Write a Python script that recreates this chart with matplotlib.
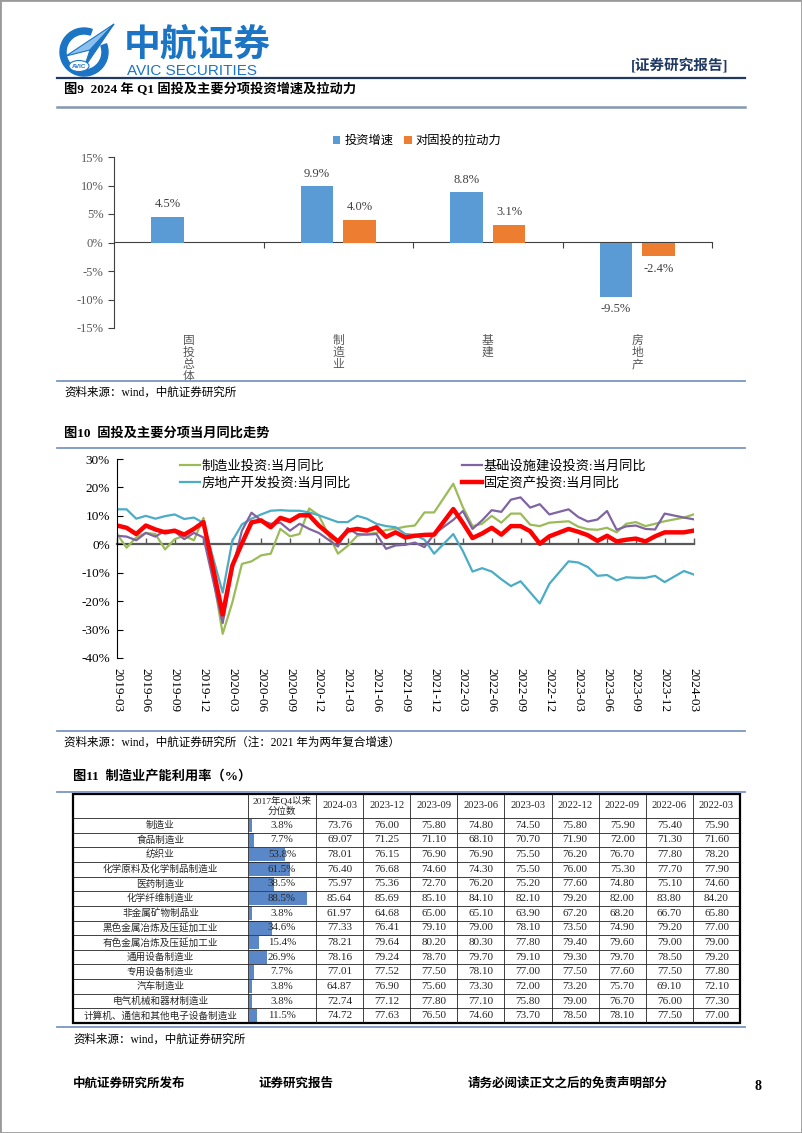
import numpy as np
import matplotlib
matplotlib.use("Agg")
import matplotlib.pyplot as plt
from matplotlib import patches
from matplotlib.lines import Line2D

plt.rcParams["font.family"] = ["Liberation Serif", "Noto Sans CJK SC"]
plt.rcParams["axes.unicode_minus"] = False

# ---------------- Fig 9: Q1 2024 growth and pull ----------------
fig9_categories = ["固投总体", "制造业", "基建", "房地产"]
fig9_growth = [4.5, 9.9, 8.8, -9.5]
fig9_pull = [np.nan, 4.0, 3.1, -2.4]

# ---------------- Fig 10: monthly YoY (Jan merged into Feb) ----------------
fig10_months = [
    "2019-03", "2019-04", "2019-05", "2019-06", "2019-07", "2019-08", "2019-09", "2019-10", "2019-11", "2019-12",
    "2020-02", "2020-03", "2020-04", "2020-05", "2020-06", "2020-07", "2020-08", "2020-09", "2020-10", "2020-11", "2020-12",
    "2021-02", "2021-03", "2021-04", "2021-05", "2021-06", "2021-07", "2021-08", "2021-09", "2021-10", "2021-11", "2021-12",
    "2022-02", "2022-03", "2022-04", "2022-05", "2022-06", "2022-07", "2022-08", "2022-09", "2022-10", "2022-11", "2022-12",
    "2023-02", "2023-03", "2023-04", "2023-05", "2023-06", "2023-07", "2023-08", "2023-09", "2023-10", "2023-11", "2023-12",
    "2024-02", "2024-03",
]
mfg_yoy = [
    3.6, -1.2, 2.4, 4.0, 3.6, -1.8, 1.8, 3.0, 1.4, 9.3,
    -31.5, -20.5, -6.9, -6.0, -3.9, -3.3, 5.4, 2.8, 3.6, 12.6, 10.2,
    -3.3, -0.6, 3.0, 3.6, 4.0, 5.0, 5.5, 6.2, 6.6, 11.2, 11.2,
    21.3, 13.0, 6.4, 7.2, 10.0, 7.6, 10.8, 10.8, 6.9, 6.4, 7.6,
    8.1, 6.2, 5.3, 5.1, 5.8, 4.2, 7.2, 7.8, 6.4, 7.2, 8.1,
    9.4, 10.5,
]
realestate_yoy = [
    12.3, 12.3, 9.0, 10.0, 9.0, 9.9, 10.5, 8.9, 9.4, 7.5,
    -17.0, 1.2, 7.0, 9.0, 10.5, 11.8, 12.0, 11.8, 11.8, 11.2, 10.2,
    7.8, 7.8, 10.0, 9.0, 7.2, 6.4, 6.0, 3.6, 3.3, 1.6, -3.3,
    3.6, -2.4, -9.6, -8.4, -9.6, -12.3, -14.7, -13.0, -16.9, -20.8, -13.9,
    -6.0, -6.4, -8.0, -11.1, -10.8, -12.7, -11.6, -11.8, -11.8, -11.1, -13.3,
    -9.4, -10.6,
]
infra_yoy = [
    3.0, 2.7, 1.4, 4.0, 2.7, 4.8, 4.5, 1.8, 4.0, 2.4,
    -27.7, -9.0, 4.8, 11.1, 8.4, 7.2, 7.6, 4.8, 7.2, 5.4, 4.0,
    -0.8, 5.7, 3.6, 3.4, 3.6, -1.6, -0.4, -0.2, 0.6, -1.0, 3.6,
    8.6, 11.7, 5.4, 8.4, 12.0, 11.4, 15.7, 16.5, 12.9, 14.1, 10.5,
    12.3, 9.6, 8.0, 8.7, 11.7, 5.1, 6.3, 6.6, 5.4, 5.2, 10.8,
    9.4, 8.8,
]
fai_yoy = [
    6.6, 5.8, 3.6, 6.6, 5.2, 4.2, 4.8, 3.4, 5.4, 7.8,
    -24.7, -7.5, 0.3, 7.7, 8.4, 6.0, 9.3, 8.2, 10.2, 10.2, 6.6,
    1.0, 4.8, 5.4, 4.8, 6.0, 2.6, 4.2, 2.4, 3.0, 3.3, 3.4,
    12.4, 7.5, 2.2, 3.8, 5.8, 3.4, 6.4, 6.4, 4.6, 0.2, 2.8,
    5.4, 4.4, 3.2, 1.2, 3.0, 1.0, 1.6, 2.0, 1.0, 2.8, 4.2,
    4.2, 4.8,
]

# ---------------- Fig 11: capacity utilisation table ----------------
table_industries = [
    "制造业", "食品制造业", "纺织业", "化学原料及化学制品制造业", "医药制造业",
    "化学纤维制造业", "非金属矿物制品业", "黑色金属冶炼及压延加工业",
    "有色金属冶炼及压延加工业", "通用设备制造业", "专用设备制造业", "汽车制造业",
    "电气机械和器材制造业", "计算机、通信和其他电子设备制造业",
]
table_percentile = [3.8, 7.7, 53.8, 61.5, 38.5, 88.5, 3.8, 34.6, 15.4, 26.9, 7.7, 3.8, 3.8, 11.5]
table_quarters = ["2024-03", "2023-12", "2023-09", "2023-06", "2023-03",
                  "2022-12", "2022-09", "2022-06", "2022-03"]
cu_2024_03 = [73.76, 69.07, 78.01, 76.40, 75.97, 85.64, 61.97, 77.33, 78.21, 78.16, 77.01, 64.87, 72.74, 74.72]
cu_2023_12 = [76.00, 71.25, 76.15, 76.68, 75.36, 85.69, 64.68, 76.41, 79.64, 79.24, 77.52, 76.90, 77.12, 77.63]
cu_2023_09 = [75.80, 71.10, 76.90, 74.60, 72.70, 85.10, 65.00, 79.10, 80.20, 78.70, 77.50, 75.60, 77.80, 76.50]
cu_2023_06 = [74.80, 68.10, 76.90, 74.30, 76.20, 84.10, 65.10, 79.00, 80.30, 79.70, 78.10, 73.30, 77.10, 74.60]
cu_2023_03 = [74.50, 70.70, 75.50, 75.50, 75.20, 82.10, 63.90, 78.10, 77.80, 79.10, 77.00, 72.00, 75.80, 73.70]
cu_2022_12 = [75.80, 71.90, 76.20, 76.00, 77.60, 79.20, 67.20, 73.50, 79.40, 79.30, 77.50, 73.20, 79.00, 78.50]
cu_2022_09 = [75.90, 72.00, 76.70, 75.30, 74.80, 82.00, 68.20, 74.90, 79.60, 79.70, 77.60, 75.70, 76.70, 78.10]
cu_2022_06 = [75.40, 71.30, 77.80, 77.70, 75.10, 83.80, 66.70, 79.20, 79.00, 78.50, 77.50, 69.10, 76.00, 77.50]
cu_2022_03 = [75.90, 71.60, 78.20, 77.90, 74.60, 84.20, 65.80, 77.00, 79.00, 79.20, 77.80, 72.10, 77.30, 77.00]
cu_columns = [cu_2024_03, cu_2023_12, cu_2023_09, cu_2023_06, cu_2023_03,
              cu_2022_12, cu_2022_09, cu_2022_06, cu_2022_03]

# ---------------- page helpers (pixel layout) ----------------
W, H = 802, 1133
fig = plt.figure(figsize=(W / 100, H / 100), dpi=100)


def fx(x):
    return x / W


def fy(y):
    return 1 - y / H


def add_axes_px(left, top, right, bottom):
    return fig.add_axes([left / W, 1 - bottom / H, (right - left) / W, (bottom - top) / H])


def hline(y, color="#7C96C4", lw=1.3, x0=57, x1=745):
    fig.add_artist(Line2D([fx(x0), fx(x1)], [fy(y), fy(y)], color=color, lw=lw))


BLUE_LOGO = "#1B75C4"
NAVY = "#1F3864"

fig.add_artist(patches.Rectangle((0, 0), 1, 1, transform=fig.transFigure,
                                 fill=False, ec="#9A9A9A", lw=2))

# ---- header ----
logo = add_axes_px(58, 22, 118, 80)
logo.set_xlim(58, 118)
logo.set_ylim(80, 22)
logo.axis("off")
logo.add_patch(patches.Wedge((84, 52), 24, -20, 290, width=6, color=BLUE_LOGO))
logo.add_patch(patches.Polygon([(114, 24), (66, 56), (90, 50)], closed=True, fc="#8CC0EC", ec=BLUE_LOGO, lw=0.8))
logo.add_patch(patches.Polygon([(114, 24), (90, 50), (84, 68)], closed=True, fc=BLUE_LOGO, ec=BLUE_LOGO, lw=0.8))
logo.add_patch(patches.Ellipse((79, 66), 20, 11, fc="white", ec=BLUE_LOGO, lw=0.8))
logo.text(79, 66.5, "AVIC", fontsize=4.5, color=BLUE_LOGO, ha="center", va="center",
          family=["Liberation Sans"], fontweight="bold")

fig.text(fx(124), fy(45), "中航证券", fontsize=26.5, color=BLUE_LOGO, ha="left", va="center",
         family=["Noto Sans CJK SC"], fontweight="heavy")
fig.text(fx(127), fy(71), "AVIC SECURITIES", fontsize=11, color=BLUE_LOGO, ha="left", va="center",
         family=["Liberation Sans"])
fig.text(fx(728), fy(66), "[证券研究报告]", fontsize=10.5, color=NAVY, ha="right", va="center",
         fontweight="bold")
hline(78, color=NAVY, lw=1.6)

# ================= Fig 9 =================
fig.text(fx(64), fy(90), "图9  2024 年 Q1 固投及主要分项投资增速及拉动力", fontsize=9.5,
         fontweight="bold", ha="left", va="center")
hline(107, color="#8497B0", lw=1.8)

GRAY = "#595959"
C_BLUE = "#5B9BD5"
C_ORANGE = "#ED7D31"

ax9 = add_axes_px(114, 157, 712, 328)
x9 = np.arange(len(fig9_categories))
bw = 0.217
b1 = ax9.bar(x9 - 0.142, fig9_growth, bw, color=C_BLUE, label="投资增速")
b2 = ax9.bar(x9 + 0.142, fig9_pull, bw, color=C_ORANGE, label="对固投的拉动力")
for bars, vals in ((b1, fig9_growth), (b2, fig9_pull)):
    for rect, v in zip(bars, vals):
        if np.isnan(v):
            continue
        off = 9 if v >= 0 else -9
        ax9.annotate(f"{v:.1f}%", (rect.get_x() + rect.get_width() / 2, v),
                     xytext=(0, off), textcoords="offset points", ha="center", va="center",
                     fontsize=9, color="#404040")
ax9.set_xlim(-0.5, 3.5)
ax9.set_ylim(-15, 15)
ax9.set_yticks(range(-15, 16, 5))
ax9.set_yticklabels([f"{v}%" for v in range(-15, 16, 5)])
ax9.tick_params(axis="y", direction="out", length=4, labelsize=9, labelcolor=GRAY, color="#404040")
ax9.set_xticks(x9)
ax9.set_xticklabels(["\n".join(c) for c in fig9_categories])
ax9.tick_params(axis="x", length=0, pad=5, labelsize=8.5, labelcolor=GRAY)
for lbl in ax9.get_xticklabels():
    lbl.set_linespacing(1.0)
for s in ("top", "right", "bottom"):
    ax9.spines[s].set_visible(False)
ax9.spines["left"].set_color("#404040")
sec9 = ax9.secondary_xaxis(0.5)
sec9.set_xticks([0.5, 1.5, 2.5, 3.5])
sec9.tick_params(direction="in", length=4, labeltop=False, labelbottom=False, color="#404040")
for s in sec9.spines.values():
    s.set_color("#404040")
fig.legend(handles=[b1, b2], loc="center", bbox_to_anchor=(fx(417), fy(141)), ncol=2,
           frameon=False, fontsize=8.8, handlelength=0.65, handleheight=0.65,
           handletextpad=0.3, columnspacing=0.9, borderpad=0)

hline(381)
fig.text(fx(64), fy(393), "资料来源：wind，中航证券研究所", fontsize=8.3, ha="left", va="center")

# ================= Fig 10 =================
fig.text(fx(64), fy(433), "图10  固投及主要分项当月同比走势", fontsize=9.5, fontweight="bold",
         ha="left", va="center")
hline(448)

month_idx = [(int(m[:4]) - 2019) * 12 + int(m[5:]) - 3 for m in fig10_months]
quarter_ticks = list(range(0, 61, 3))
quarter_labels = [f"{2019 + (2 + i) // 12}-{(2 + i) % 12 + 1:02d}" for i in quarter_ticks]

ax10 = add_axes_px(117, 459, 693.5, 658)
ax10.plot(month_idx, mfg_yoy, color="#9BBB59", lw=1.6, label="制造业投资:当月同比")
ax10.plot(month_idx, realestate_yoy, color="#4BACC6", lw=1.6, label="房地产开发投资:当月同比")
ax10.plot(month_idx, infra_yoy, color="#8064A2", lw=1.6, label="基础设施建设投资:当月同比")
ax10.plot(month_idx, fai_yoy, color="#FF0000", lw=3.2, label="固定资产投资:当月同比")
ax10.set_xlim(0, 60)
ax10.set_ylim(-40, 30)
ax10.set_yticks(range(-40, 31, 10))
ax10.set_yticklabels([f"{v}%" for v in range(-40, 31, 10)])
ax10.tick_params(axis="y", direction="in", length=4, labelsize=9.5, pad=5)
ax10.set_xticks(quarter_ticks)
ax10.set_xticklabels(quarter_labels, rotation=270, ha="center", va="top")
ax10.tick_params(axis="x", length=0, pad=7, labelsize=9.5)
for s in ("top", "right", "bottom"):
    ax10.spines[s].set_visible(False)
sec10 = ax10.secondary_xaxis(40 / 70)
sec10.set_xticks(quarter_ticks)
sec10.tick_params(direction="out", length=4, width=1, labeltop=False, labelbottom=False, color="#595959")
for s in sec10.spines.values():
    s.set_color("#595959")
    s.set_linewidth(1.6)
ax10.legend(loc="upper left", bbox_to_anchor=((180 - 117) / 576.5, 0.995), ncol=2, frameon=False,
            fontsize=9.5, handlelength=1.5, handletextpad=0.15, columnspacing=8.4,
            labelspacing=0.3, borderpad=0, borderaxespad=0)

hline(731)
fig.text(fx(64), fy(743), "资料来源：wind，中航证券研究所（注：2021 年为两年复合增速）", fontsize=8.3,
         ha="left", va="center")

# ================= Fig 11 (table) =================
fig.text(fx(73), fy(776), "图11  制造业产能利用率（%）", fontsize=9.5, fontweight="bold",
         ha="left", va="center")
hline(792)

T_LEFT, T_RIGHT = 73, 740
T_TOP, HEAD_BOT, T_BOT = 794, 818, 1023
NAME_R, PCT_R = 248, 316
col_w = (T_RIGHT - PCT_R) / len(table_quarters)
col_edges = [T_LEFT, NAME_R, PCT_R] + [PCT_R + col_w * (k + 1) for k in range(len(table_quarters))]
n_rows = len(table_industries)
row_h = (T_BOT - HEAD_BOT) / n_rows
row_c = [HEAD_BOT + row_h * (i + 0.5) for i in range(n_rows)]

tab = add_axes_px(T_LEFT, T_TOP, T_RIGHT, T_BOT)
tab.set_xlim(T_LEFT, T_RIGHT)
tab.set_ylim(T_BOT, T_TOP)
tab.axis("off")

pct_w = PCT_R - NAME_R - 2
tab.barh(row_c, [p / 100 * pct_w for p in table_percentile], height=row_h - 1,
         left=NAME_R + 1, color="#5A87C8")

TXT = "#262626"
for i, name in enumerate(table_industries):
    tab.text((T_LEFT + NAME_R) / 2, row_c[i], name, fontsize=6.9, ha="center", va="center", color=TXT)
    tab.text((NAME_R + PCT_R) / 2, row_c[i], f"{table_percentile[i]:.1f}%", fontsize=7.8,
             ha="center", va="center", color=TXT)
    for j, col in enumerate(cu_columns):
        cx = PCT_R + col_w * (j + 0.5)
        tab.text(cx, row_c[i], f"{col[i]:.2f}", fontsize=8, ha="center", va="center", color=TXT)

tab.text((NAME_R + PCT_R) / 2, (T_TOP + HEAD_BOT) / 2, "2017年Q4以来\n分位数", fontsize=6.8,
         ha="center", va="center", color=TXT, linespacing=1.2)
for j, q in enumerate(table_quarters):
    tab.text(PCT_R + col_w * (j + 0.5), (T_TOP + HEAD_BOT) / 2, q, fontsize=7.6,
             ha="center", va="center", color=TXT)

row_edges = [HEAD_BOT + row_h * i for i in range(n_rows)]
tab.hlines(row_edges, T_LEFT, T_RIGHT, color="#202020", lw=0.6)
tab.vlines(col_edges[1:-1], T_TOP, T_BOT, color="#202020", lw=0.6)
tab.add_patch(patches.Rectangle((T_LEFT, T_TOP), T_RIGHT - T_LEFT, T_BOT - T_TOP,
                                fill=False, ec="black", lw=1.6, clip_on=False))

hline(1027)
fig.text(fx(73), fy(1040), "资料来源：wind，中航证券研究所", fontsize=8.3, ha="left", va="center")

# ---- footer ----
fig.text(fx(73), fy(1084), "中航证券研究所发布", fontsize=9, fontweight="bold", ha="left", va="center")
fig.text(fx(258), fy(1084), "证券研究报告", fontsize=9, fontweight="bold", ha="left", va="center")
fig.text(fx(468), fy(1084), "请务必阅读正文之后的免责声明部分", fontsize=9, fontweight="bold",
         ha="left", va="center")
fig.text(fx(758), fy(1086), "8", fontsize=10, fontweight="bold", ha="center", va="center")

fig.savefig("out.png", dpi=100)
